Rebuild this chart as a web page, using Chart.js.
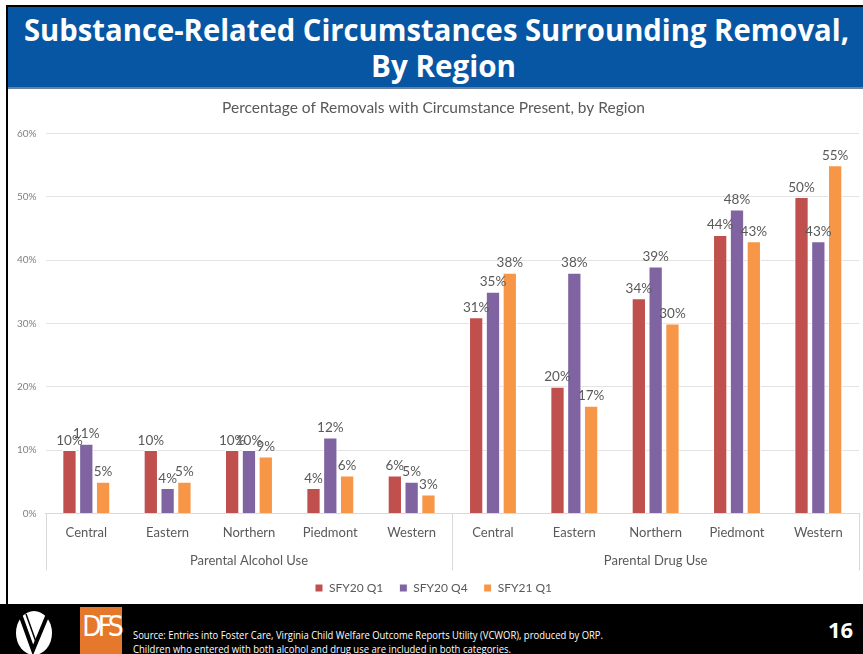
<!DOCTYPE html>
<html>
<head>
<meta charset="utf-8">
<script src="https://cdn.jsdelivr.net/npm/chart.js@4.4.1/dist/chart.umd.min.js"></script>
<style>
  html, body { margin: 0; padding: 0; background: #fff; }
  body { width: 863px; height: 654px; position: relative; overflow: hidden; }
  #frame { position: absolute; left: 6px; top: 5px; width: 870px; height: 600px; border-left: 2px solid #000; border-top: 2px solid #000; }
  #header { position: absolute; left: 8px; top: 7px; width: 855px; height: 80px; background: #0756a3; border-bottom: 2px solid #6a7f9a; }
  .fit { position: absolute; white-space: nowrap; transform-origin: 0 0; }
  .ttl { color: #fff; font-family: "Open Sans", sans-serif; font-weight: bold; font-size: 31px; line-height: 36px; }
  #wrap { position: absolute; left: 8px; top: 89px; width: 855px; height: 515px; }
  #footer { position: absolute; left: 0; top: 604px; width: 863px; height: 50px; background: #000; }
  #dfs { position: absolute; left: 80px; top: 3px; width: 42px; height: 47px; background: #e5782a; color: #fff;
    font-family: "DejaVu Sans Condensed", sans-serif; font-size: 28px; line-height: 40px; letter-spacing: -4px; text-align: center; font-weight: 200; }
  .src { color: #fff; font-family: "Open Sans", sans-serif; font-size: 10px; line-height: 14px; }
  #page { position: absolute; left: 828px; top: 10px; color: #fff; font-family: "Open Sans", sans-serif; font-weight: bold; font-size: 22px; }
</style>
</head>
<body>
<div id="frame"></div>
<div id="header">
  <div class="fit ttl" data-w="825" data-cx="428" style="top:4px">Substance-Related Circumstances Surrounding Removal,</div>
  <div class="fit ttl" data-w="145" data-cx="435" style="top:40px">By Region</div>
</div>
<div id="wrap"><canvas id="myChart" width="855" height="515"></canvas></div>
<div id="footer">
  <svg style="position:absolute;left:14px;top:4px" width="40" height="46" viewBox="0 0 40 46">
    <ellipse cx="20" cy="25" rx="18" ry="22" fill="#fff"/>
    <path d="M6 6 L19 42 L34 6" stroke="#000" stroke-width="4" fill="none"/>
    <path d="M12 6 L22 34" stroke="#000" stroke-width="1.5" fill="none"/>
  </svg>
  <div id="dfs">DFS</div>
  <div class="fit src" data-w="470" style="left:133px;top:24px">Source: Entries into Foster Care, Virginia Child Welfare Outcome Reports Utility (VCWOR), produced by ORP.</div>
  <div class="fit src" data-w="378" style="left:133px;top:38px">Children who entered with both alcohol and drug use are included in both categories.</div>
  <div id="page">16</div>
</div>
<script>
// squeeze the slide text to the narrow widths of the original
document.querySelectorAll(".fit").forEach(el => {
  const w = el.getBoundingClientRect().width
  const target = +el.dataset.w
  el.style.transform = "scaleX(" + (target / w) + ")"
  if (el.dataset.cx) el.style.left = (+el.dataset.cx - target / 2) + "px"
})

const regions = ["Central", "Eastern", "Northern", "Piedmont", "Western", "Central", "Eastern", "Northern", "Piedmont", "Western"]
const groups = ["Parental Alcohol Use", "Parental Drug Use"]
const seriesNames = ["SFY20 Q1", "SFY20 Q4", "SFY21 Q1"]
const sfy20q1 = [10, 10, 10, 4, 6, 31, 20, 34, 44, 50]
const sfy20q4 = [11, 4, 10, 12, 5, 35, 38, 39, 48, 43]
const sfy21q1 = [5, 5, 9, 6, 3, 38, 17, 30, 43, 55]
const barColors = ["#c0504d", "#8064a2", "#f79646"]
const yTicks = [0, 10, 20, 30, 40, 50, 60]

const textGray = "#595959"
const font = "Lato, 'Open Sans', sans-serif"

// value labels over each bar
const barLabels = {
  id: "barLabels",
  afterDatasetsDraw(chart){
    const ctx = chart.ctx
    ctx.save()
    ctx.font = "13.5px " + font
    ctx.fillStyle = textGray
    ctx.textAlign = "center"
    ctx.textBaseline = "bottom"
    chart.data.datasets.forEach((ds, i) => {
      chart.getDatasetMeta(i).data.forEach((bar, j) => {
        ctx.fillText(ds.data[j] + "%", bar.x, bar.y - 3)
      })
    })
    ctx.restore()
  }
}

// second axis row: group names + separator lines
const groupAxis = {
  id: "groupAxis",
  afterDraw(chart){
    const x = chart.scales.x
    const ctx = chart.ctx
    const mid = (x.getPixelForValue(4) + x.getPixelForValue(5)) / 2
    const edges = [x.left, mid, x.right]
    ctx.save()
    ctx.strokeStyle = "#d9d9d9"
    ctx.lineWidth = 1
    edges.forEach(e => {
      ctx.beginPath()
      ctx.moveTo(Math.round(e) + 0.5, x.top)
      ctx.lineTo(Math.round(e) + 0.5, x.top + 57)
      ctx.stroke()
    })
    ctx.font = "13px " + font
    ctx.fillStyle = textGray
    ctx.textAlign = "center"
    ctx.textBaseline = "middle"
    groups.forEach((g, i) => {
      ctx.fillText(g, (edges[i] + edges[i + 1]) / 2, x.top + 47)
    })
    ctx.restore()
  }
}

new Chart("myChart", {
  type: "bar",
  data: {
    labels: regions,
    datasets: [sfy20q1, sfy20q4, sfy21q1].map((d, i) => ({
      label: seriesNames[i],
      data: d,
      backgroundColor: barColors[i],
      borderColor: "#ffffff",
      borderWidth: 1,
      categoryPercentage: 0.62,
      barPercentage: 0.85
    }))
  },
  options: {
    responsive: false,
    animation: false,
    layout: { padding: { left: 0, right: 4, top: 8, bottom: 0 } },
    plugins: {
      title: {
        display: true,
        text: "Percentage of Removals with Circumstance Present, by Region",
        color: textGray,
        font: { family: font, size: 15.5, weight: "normal" },
        padding: { top: 2, bottom: 16 }
      },
      legend: {
        position: "bottom",
        labels: {
          color: textGray,
          font: { family: font, size: 12 },
          usePointStyle: true,
          pointStyle: "rect",
          boxWidth: 8,
          boxHeight: 8,
          padding: 16
        }
      },
      tooltip: { enabled: false }
    },
    scales: {
      x: {
        grid: { display: false },
        border: { color: "#d9d9d9" },
        ticks: { color: textGray, font: { family: font, size: 13 }, padding: 4, maxRotation: 0 },
        afterFit(s){ s.height += 21 }
      },
      y: {
        min: 0,
        max: 60,
        afterBuildTicks(s){ s.ticks = yTicks.map(v => ({ value: v })) },
        grid: { color: "#e3e3e3", drawTicks: false },
        border: { display: false },
        ticks: { color: "#808080", font: { family: font, size: 10 }, padding: 9, callback: v => v + "%" }
      }
    }
  },
  plugins: [barLabels, groupAxis]
})
</script>
</body>
</html>
